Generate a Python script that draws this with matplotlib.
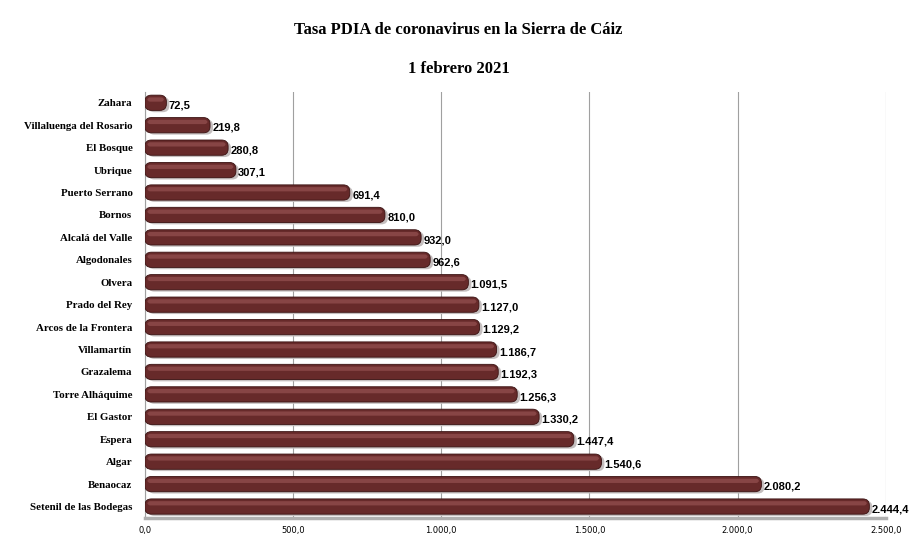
import matplotlib.pyplot as plt
from matplotlib.patches import FancyBboxPatch

# Datos
municipios = ['Zahara', 'Villaluenga del Rosario', 'El Bosque', 'Ubrique', 'Puerto Serrano',
              'Bornos', 'Alcalá del Valle', 'Algodonales', 'Olvera', 'Prado del Rey',
              'Arcos de la Frontera', 'Villamartín', 'Grazalema', 'Torre Alháquime',
              'El Gastor', 'Espera', 'Algar', 'Benaocaz', 'Setenil de las Bodegas']
tasa = [72.5, 219.8, 280.8, 307.1, 691.4, 810.0, 932.0, 962.6, 1091.5, 1127.0,
        1129.2, 1186.7, 1192.3, 1256.3, 1330.2, 1447.4, 1540.6, 2080.2, 2444.4]
ticks = [0, 500, 1000, 1500, 2000, 2500]


def fmt_es(v):
    s = f'{v:,.1f}'
    return s.replace(',', 'X').replace('.', ',').replace('X', '.')


fig = plt.figure(figsize=(9.17, 5.45), dpi=100)
ax = fig.add_axes([0.158, 0.05, 0.808, 0.782])

n = len(municipios)
ax.set_xlim(0, 2500)
ax.set_ylim(n - 0.5, -0.5)

alto = 0.68
for i, v in enumerate(tasa):
    y = i
    # sombra
    sombra = FancyBboxPatch((10, y - alto / 2 + 0.08), v, alto,
                            boxstyle='round,pad=0,rounding_size=22',
                            mutation_aspect=0.013, fc='#c4bebe', ec='none', zorder=2)
    ax.add_patch(sombra)
    barra = FancyBboxPatch((0, y - alto / 2), v, alto,
                           boxstyle='round,pad=0,rounding_size=22',
                           mutation_aspect=0.013, fc='#672a2a', ec='#3a1212', lw=0.6, zorder=3)
    ax.add_patch(barra)
    brillo = FancyBboxPatch((8, y - alto / 2 + 0.1), max(v - 16, 1), alto * 0.28,
                            boxstyle='round,pad=0,rounding_size=10',
                            mutation_aspect=0.013, fc='#874545', ec='none', zorder=4)
    ax.add_patch(brillo)
    ax.text(v + 8, y + 0.12, fmt_es(v), va='center', ha='left',
            fontsize=8, fontweight='bold', family='Liberation Sans', zorder=5)

ax.set_yticks(range(n))
ax.set_yticklabels(municipios, family='Liberation Serif', fontweight='bold', fontsize=7.8)
ax.set_xticks(ticks)
ax.set_xticklabels([fmt_es(t) for t in ticks], fontsize=6, family='DejaVu Sans')
ax.tick_params(axis='both', length=0)
ax.tick_params(axis='y', pad=9)
ax.tick_params(axis='x', pad=6)

ax.grid(axis='x', color='#a0a0a0', lw=0.8, zorder=0)
ax.set_axisbelow(True)
for s in ['top', 'right']:
    ax.spines[s].set_visible(False)
ax.spines['left'].set_color('#a0a0a0')
ax.spines['bottom'].set_color('#b0b0b0')
ax.spines['bottom'].set_linewidth(2.5)

fig.text(0.5, 0.945, 'Tasa PDIA de coronavirus en la Sierra de Cáiz', ha='center', va='center',
         family='Liberation Serif', fontweight='bold', fontsize=12)
fig.text(0.5, 0.873, '1 febrero 2021', ha='center', va='center',
         family='Liberation Serif', fontweight='bold', fontsize=12)

fig.savefig('out.png', dpi=100)
